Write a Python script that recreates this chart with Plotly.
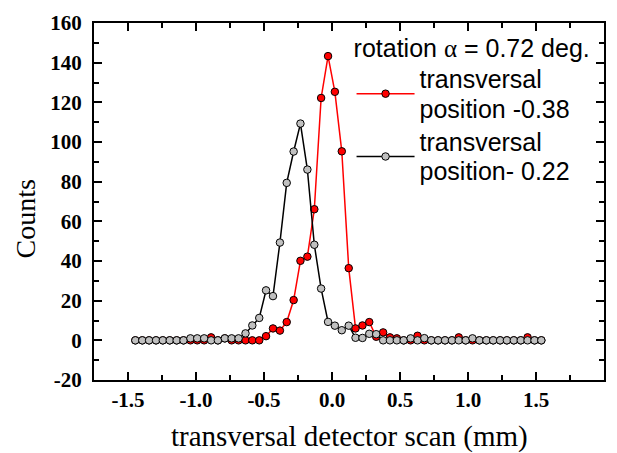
import plotly.graph_objects as go

# scan positions (mm), shared by both scans
scan_x = [-1.446, -1.395, -1.345, -1.294, -1.244, -1.193, -1.142, -1.092, -1.041, -0.991,
          -0.940, -0.889, -0.839, -0.788, -0.738, -0.687, -0.636, -0.586, -0.535, -0.485,
          -0.434, -0.383, -0.333, -0.282, -0.232, -0.181, -0.130, -0.080, -0.029, 0.021,
          0.072, 0.123, 0.173, 0.224, 0.274, 0.325, 0.376, 0.426, 0.477, 0.527,
          0.578, 0.629, 0.679, 0.730, 0.780, 0.831, 0.882, 0.932, 0.983, 1.033,
          1.084, 1.135, 1.185, 1.236, 1.286, 1.337, 1.388, 1.438, 1.489, 1.539]

# counts at transversal position -0.38
counts_m038 = [0, 0, 0, 0, 0, 0, 0, 0, 0, 0,
               0, 1.5, 0, 1, 0, 0, 0, 0, 0, 2.1,
               6.0, 4.9, 9.2, 20.3, 40.1, 42.2, 66.1, 122.2, 143.3, 125.3,
               95.3, 36.4, 6.0, 7.5, 9.2, 1.8, 4.0, 1.5, 1, 0,
               0, 2.3, 0, 0, 0, 0, 0, 1.5, 0, 0,
               0, 0, 0, 0, 0, 0, 0, 1.5, 0, 0]

# counts at transversal position -0.22
counts_m022 = [0, 0, 0, 0, 0, 0, 0, 0, 1, 1,
               1, 0, 0, 1, 1, 1, 3.5, 7.5, 11.3, 25.2,
               22.3, 49.3, 79.4, 95.2, 109.3, 86.1, 48.2, 26.1, 9.3, 7.4,
               5.1, 7.4, 1.3, 1.2, 3.3, 3.1, 0, 0, 0, 0,
               1, 0, 1.1, 0, 0, 0, 0, 0, 0, 1,
               0, 0, 0, 0, 0, 0, 0, 0, 0, 0]

x_tickvals = [-1.5, -1.0, -0.5, 0.0, 0.5, 1.0, 1.5, 2.0]
x_ticktext = ["-1.5", "-1.0", "-0.5", "0.0", "0.5", "1.0", "1.5", "2.0"]
y_tickvals = [-20, 0, 20, 40, 60, 80, 100, 120, 140, 160]
y_ticktext = ["-20", "0", "20", "40", "60", "80", "100", "120", "140", "160"]

serif = "Liberation Serif, Times New Roman, serif"
sans = "Liberation Sans, Arial, sans-serif"


def entry_label(line1, line2):
    # legend text drawn at 25px while line spacing follows the smaller legend font
    span = "<span style='font-size:25px'>{}</span>"
    return span.format(line1) + "<br>" + span.format(line2)


fig = go.Figure()
fig.add_trace(go.Scatter(
    x=scan_x, y=counts_m038, mode="lines+markers",
    name=entry_label("transversal", "position -0.38"),
    line=dict(color="#ff0000", width=1.5),
    marker=dict(size=7.5, color="#ff0000", line=dict(color="black", width=1)),
))
fig.add_trace(go.Scatter(
    x=scan_x, y=counts_m022, mode="lines+markers",
    name=entry_label("transversal", "position- 0.22"),
    line=dict(color="black", width=1.5),
    marker=dict(size=7.5, color="#c0c0c0", line=dict(color="black", width=1)),
))

axis_common = dict(
    showline=True, linecolor="black", linewidth=2, mirror="allticks",
    ticks="inside", tickcolor="black", tickwidth=1.5, ticklen=8,
    showgrid=False, zeroline=False,
    tickfont=dict(family=serif, size=21, color="black", weight="bold"),
)

fig.update_xaxes(
    range=[-1.75, 2.0], tickmode="array", tickvals=x_tickvals, ticktext=x_ticktext,
    minor=dict(tickmode="linear", tick0=0, dtick=0.25, ticks="inside", ticklen=5,
               tickcolor="black", tickwidth=1.5),
    ticklabelstandoff=0, **axis_common,
)
fig.update_yaxes(
    range=[-20, 160], tickmode="array", tickvals=y_tickvals, ticktext=y_ticktext,
    minor=dict(tickmode="linear", tick0=0, dtick=10, ticks="inside", ticklen=5,
               tickcolor="black", tickwidth=1.5),
    ticklabelstandoff=6, **axis_common,
)

fig.add_annotation(
    text="Counts", xref="paper", yref="paper", x=-0.135, y=0.45,
    textangle=-90, showarrow=False, xanchor="center", yanchor="middle",
    font=dict(family=serif, size=28, color="black"),
)
fig.add_annotation(
    text="transversal detector scan (mm)", xref="paper", yref="paper",
    x=0.5, y=-0.158, showarrow=False, xanchor="center", yanchor="middle",
    font=dict(family=serif, size=29, color="black"),
)

fig.update_layout(
    width=617, height=453,
    margin=dict(l=94, r=11, t=19, b=73),
    paper_bgcolor="white", plot_bgcolor="white",
    showlegend=True,
    legend=dict(
        x=0.505, y=0.995, xanchor="left", yanchor="top",
        bgcolor="rgba(0,0,0,0)", borderwidth=0,
        itemwidth=58,
        font=dict(family=sans, size=23, color="black"),
        title=dict(text="rotation <span style='font-family:Liberation Serif'>α</span> = 0.72 deg.",
                   font=dict(family=sans, size=25, color="black")),
        tracegroupgap=0,
    ),
)

fig.write_html("out.html")
